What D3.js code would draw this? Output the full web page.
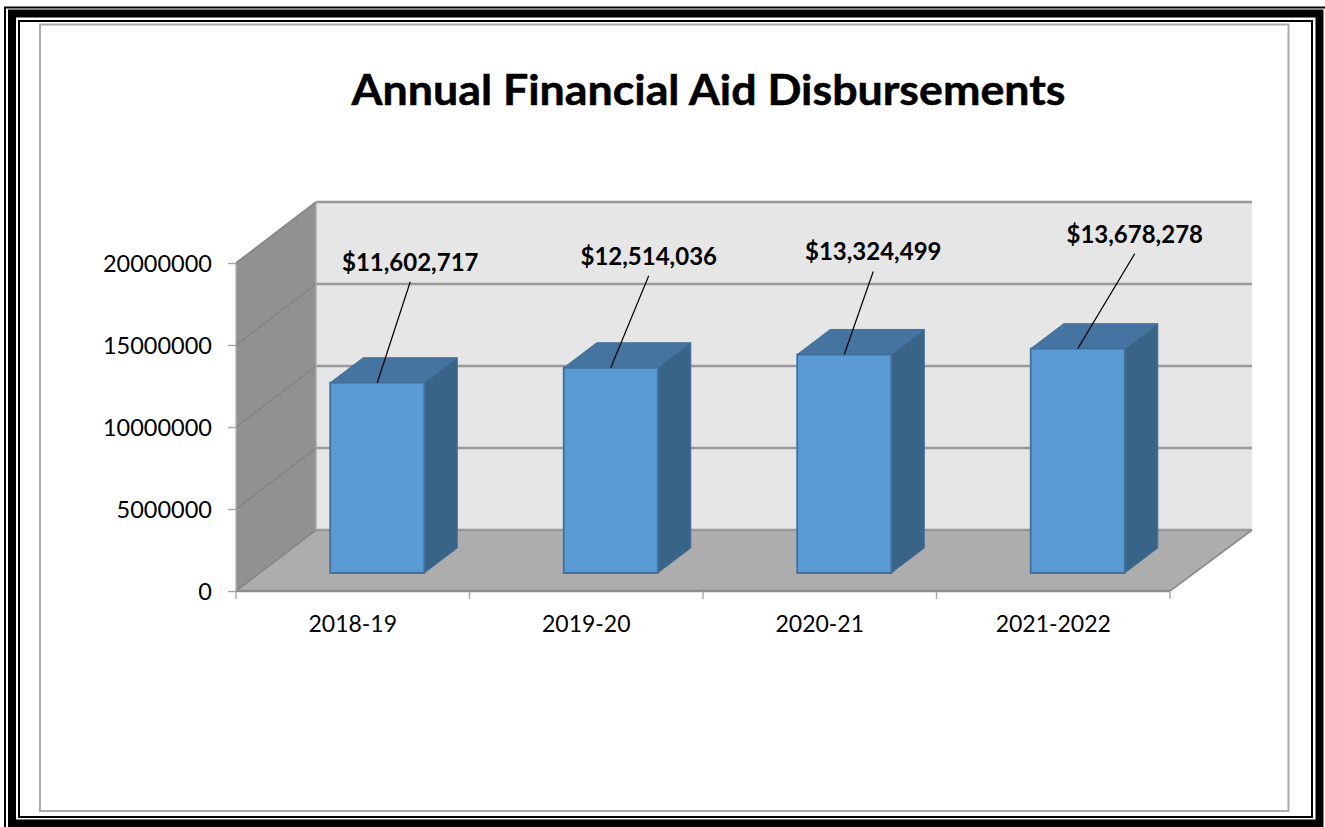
<!DOCTYPE html>
<html>
<head>
<meta charset="utf-8" />
<title>Annual Financial Aid Disbursements</title>
<style>
html, body {
    margin: 0;
    padding: 0;
    background: #fff;
}
svg {
    display: block;
}
text {
    font-family: Lato, "Open Sans", sans-serif;
    fill: #000;
}
</style>
</head>
<body>
<div id="chart"></div>
<script src="https://cdnjs.cloudflare.com/ajax/libs/d3/7.8.5/d3.min.js"></script>
<script>
var years = ["2018-19", "2019-20", "2020-21", "2021-2022"]
var disbursements = [11602717, 12514036, 13324499, 13678278]
var yTicks = [0, 5000000, 10000000, 15000000, 20000000]
var titleText = "Annual Financial Aid Disbursements"

var width = 1325, height = 827

// front plane of the 3d box, depth goes up and to the right
var left = 236, right = 1170, bottom = 591, top_ = 263
var depth = {x: 80, y: -61}
var barShift = {x: 24.5, y: -18}
var barDepth = {x: 33, y: -25}

// where each leader line ends, relative to the top of its bar
var leaders = [[33, -101], [38, -92], [29, -83], [57, -95]]

var x = d3.scaleBand().domain(years).range([left, right]).paddingInner(0).paddingOuter(0)
var y = d3.scaleLinear().domain([0, 20000000]).range([bottom, top_])
var barWidth = x.bandwidth() * 0.403

var svg = d3.select("#chart").append("svg")
    .attr("width", width)
    .attr("height", height)

drawFrame()
drawBox()
drawAxes()
drawBars()
drawLabels()

svg.append("text")
    .attr("x", 708.5)
    .attr("y", 105)
    .attr("text-anchor", "middle")
    .attr("font-size", 42)
    .attr("font-weight", 700)
    .attr("textLength", 714)
    .attr("lengthAdjust", "spacingAndGlyphs")
    .style("stroke", "#000")
    .style("stroke-width", 0.5)
    .text(titleText)

function frameRect(x0, y0, x1, y1, w, color) {
    svg.append("rect")
        .attr("x", x0)
        .attr("y", y0)
        .attr("width", x1 - x0)
        .attr("height", y1 - y0)
        .attr("fill", "none")
        .attr("stroke", color)
        .attr("stroke-width", w)
}

function drawFrame() {
    // outer thin line only runs along the top and left
    svg.append("path")
        .attr("d", "M5,827V7.5H1325")
        .attr("fill", "none")
        .attr("stroke", "#000")
        .attr("stroke-width", 2)
    frameRect(12, 13.5, 1319.5, 823.5, 8, "#000")
    frameRect(19, 21, 1312, 817, 2, "#000")
    frameRect(40, 24.5, 1288.5, 811, 2, "#ababab")
}

function poly(points, fill, stroke) {
    return svg.append("polygon")
        .attr("points", points.map(function(p) { return p.join(",") }).join(" "))
        .attr("fill", fill)
        .attr("stroke", stroke || "none")
}

function drawBox() {
    var bx = depth.x, by = depth.y
    // back wall, side wall, floor
    poly([[left + bx, top_ + by], [right + bx + 2, top_ + by], [right + bx + 2, bottom + by], [left + bx, bottom + by]], "#e6e6e6")
    poly([[left, top_], [left + bx, top_ + by], [left + bx, bottom + by], [left, bottom]], "#919191")
    poly([[left, bottom], [left + bx, bottom + by], [right + bx + 2, bottom + by], [right, bottom]], "#adadad")

    yTicks.forEach(function(t) {
        svg.append("line")
            .attr("x1", left + bx).attr("y1", y(t) + by)
            .attr("x2", right + bx + 2).attr("y2", y(t) + by)
            .attr("stroke", "#999").attr("stroke-width", 2.6)
        svg.append("line")
            .attr("x1", left).attr("y1", y(t))
            .attr("x2", left + bx).attr("y2", y(t) + by)
            .attr("stroke", "#858585").attr("stroke-width", 1.6)
    })
    svg.append("line")
        .attr("x1", left + bx).attr("y1", top_ + by)
        .attr("x2", left + bx).attr("y2", bottom + by)
        .attr("stroke", "#a8a8a8").attr("stroke-width", 1.5)
    svg.append("line")
        .attr("x1", left).attr("y1", top_)
        .attr("x2", left).attr("y2", bottom)
        .attr("stroke", "#b0b0b0").attr("stroke-width", 1.2)
    svg.append("line")
        .attr("x1", left).attr("y1", bottom)
        .attr("x2", right).attr("y2", bottom)
        .attr("stroke", "#8c8c8c").attr("stroke-width", 2.4)
    svg.append("line")
        .attr("x1", right).attr("y1", bottom)
        .attr("x2", right + bx + 2).attr("y2", bottom + by)
        .attr("stroke", "#8c8c8c").attr("stroke-width", 1.6)
}

function drawAxes() {
    var yAxis = d3.axisLeft(y).tickValues(yTicks).tickSize(8).tickPadding(16).tickFormat(d3.format("d"))
    var yg = svg.append("g").attr("transform", "translate(" + left + ",1)").call(yAxis)
    yg.select(".domain").remove()
    yg.selectAll("line").attr("transform", "translate(0,-1)").attr("stroke", "#a6a6a6").attr("stroke-width", 1.4)
    yg.selectAll("text").attr("font-size", 23.5).style("font-family", "Lato, sans-serif")

    var xAxis = d3.axisBottom(x).tickSize(0).tickPadding(25)
    var xg = svg.append("g").attr("transform", "translate(0," + bottom + ")").call(xAxis)
    xg.select(".domain").remove()
    xg.selectAll("text").attr("font-size", 23).style("font-family", "Lato, sans-serif")

    // tick marks sit on the category edges, not the centers
    var edges = years.map(function(d) { return x(d) }).concat([right])
    svg.selectAll(".edgeTick")
        .data(edges)
        .enter()
        .append("line")
        .attr("class", "edgeTick")
        .attr("x1", function(d) { return d })
        .attr("x2", function(d) { return d })
        .attr("y1", bottom)
        .attr("y2", bottom + 8)
        .attr("stroke", "#a6a6a6")
        .attr("stroke-width", 1.4)
}

function barLeft(d) {
    return x(d) + (x.bandwidth() - barWidth) / 2 + barShift.x
}

function barTop(v) {
    return y(v) + barShift.y
}

function drawBars() {
    years.forEach(function(d, i) {
        var x0 = barLeft(d), x1 = x0 + barWidth
        var y0 = barTop(disbursements[i]), y1 = y(0) + barShift.y
        var dx = barDepth.x, dy = barDepth.y
        poly([[x0, y0], [x0 + dx, y0 + dy], [x1 + dx, y0 + dy], [x1, y0]], "#44749f", "#41719c")
        poly([[x1, y0], [x1 + dx, y0 + dy], [x1 + dx, y1 + dy], [x1, y1]], "#3a6487", "#41719c")
        poly([[x0, y0], [x1, y0], [x1, y1], [x0, y1]], "#5b9bd5", "#41719c").attr("stroke-width", 1.8)
    })
}

function drawLabels() {
    years.forEach(function(d, i) {
        var lx = barLeft(d) + barWidth / 2
        var ly = barTop(disbursements[i])
        var ex = lx + leaders[i][0], ey = ly + leaders[i][1]
        svg.append("line")
            .attr("x1", lx).attr("y1", ly)
            .attr("x2", ex).attr("y2", ey)
            .attr("stroke", "#000").attr("stroke-width", 1.2)
        svg.append("text")
            .attr("x", ex)
            .attr("y", ey - 11)
            .attr("text-anchor", "middle")
            .attr("font-size", 24)
            .attr("font-weight", 700)
            .text("$" + d3.format(",")(disbursements[i]))
    })
}
</script>
</body>
</html>
